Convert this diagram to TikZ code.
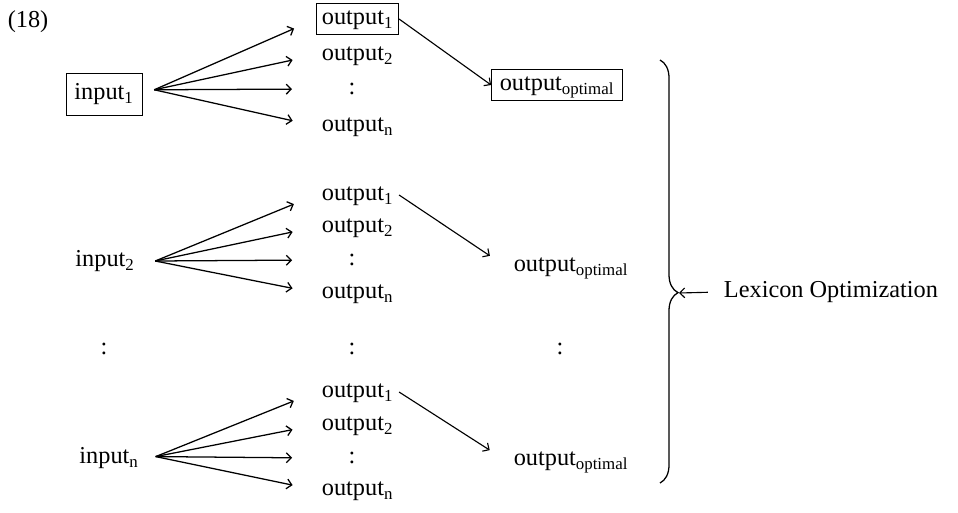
\documentclass[tikz,border=0pt]{standalone}
\usepackage{fontspec}
\setmainfont{Liberation Serif}
\usetikzlibrary{arrows, arrows.meta, positioning, calc, decorations.pathreplacing}

\begin{document}
\begin{tikzpicture}[x=0.025cm, y=-0.025cm,
    >={Straight Barb[length=3.5pt, width=7pt]},
    word/.style={font=\LARGE, text height=12pt, text depth=4pt, inner ysep=3pt},
    inword/.style={word, inner xsep=6pt},
    outword/.style={word, inner xsep=4pt, anchor=west},
    optword/.style={word, inner xsep=6pt},
    fan/.style={->, line width=0.9pt, shorten >=17pt},
    pick/.style={->, line width=0.8pt}]
    \useasboundingbox (0,0) rectangle (958,512);

    % Example number
    \node[word] (num) at (28,22) {(18)};

    % First input
    \node[inword, draw, inner ysep=7pt] (in1) at (104,94) {input\textsubscript{1}};
    \coordinate (f1) at ([shift={(8.5pt,3pt)}]in1.east);
    \node[outword, draw] (o11) at (316,19) {output\textsubscript{1}};
    \node[outword] (o12) at (316,55) {output\textsubscript{2}};
    \node[word] (o1d) at (352,89) {:};
    \node[outword] (o1n) at (316,126) {output\textsubscript{n}};
    \node[optword, draw] (opt1) at (557,85) {output\textsubscript{optimal}};

    \draw[fan] (f1) -- (o11.west);
    \draw[fan] (f1) -- (o12.west);
    \draw[fan] (f1) -- (o1d -| o11.west);
    \draw[fan] (f1) -- (o1n.west);
    \draw[pick] (o11.east) -- (opt1.west);

    % Second input
    \node[inword] (in2) at (105,261) {input\textsubscript{2}};
    \coordinate (f2) at ([xshift=8.5pt]in2.east);
    \node[outword] (o21) at (316,195) {output\textsubscript{1}};
    \node[outword] (o22) at (316,227) {output\textsubscript{2}};
    \node[word] (o2d) at (352,260) {:};
    \node[outword] (o2n) at (316,293) {output\textsubscript{n}};
    \node[optword] (opt2) at (571,266) {output\textsubscript{optimal}};

    \draw[fan] (f2) -- (o21.west);
    \draw[fan] (f2) -- (o22.west);
    \draw[fan] (f2) -- (o2d -| o21.west);
    \draw[fan] (f2) -- (o2n.west);
    \draw[pick, shorten >=13pt] (o21.east) -- (opt2.west);

    % Dots between
    \node[word] (ind) at (104,349) {:};
    \node[word] (oud) at (352,349) {:};
    \node[word] (optd) at (560,349) {:};

    % Last input
    \node[inword] (in3) at (109,458) {input\textsubscript{n}};
    \coordinate (f3) at ([shift={(6pt,1pt)}]in3.east);
    \node[outword] (o31) at (316,392) {output\textsubscript{1}};
    \node[outword] (o32) at (316,425) {output\textsubscript{2}};
    \node[word] (o3d) at (352,458) {:};
    \node[outword] (o3n) at (316,490) {output\textsubscript{n}};
    \node[optword] (opt3) at (571,460) {output\textsubscript{optimal}};

    \draw[fan] (f3) -- (o31.west);
    \draw[fan] (f3) -- (o32.west);
    \draw[fan] (f3) -- (o3d -| o31.west);
    \draw[fan] (f3) -- (o3n.west);
    \draw[pick, shorten >=13pt] (o31.east) -- (opt3.west);

    % Brace and label
    \draw[decorate, decoration={brace, amplitude=12.8pt, aspect=0.55}, line width=0.9pt]
        (660,60) -- (660,483);
    \coordinate (bracetip) at (679,293);
    \node[word, anchor=west] (lex) at (719,292) {Lexicon Optimization};
    \draw[pick, shorten <=8pt] (lex.west) -- (bracetip);
\end{tikzpicture}
\end{document}
